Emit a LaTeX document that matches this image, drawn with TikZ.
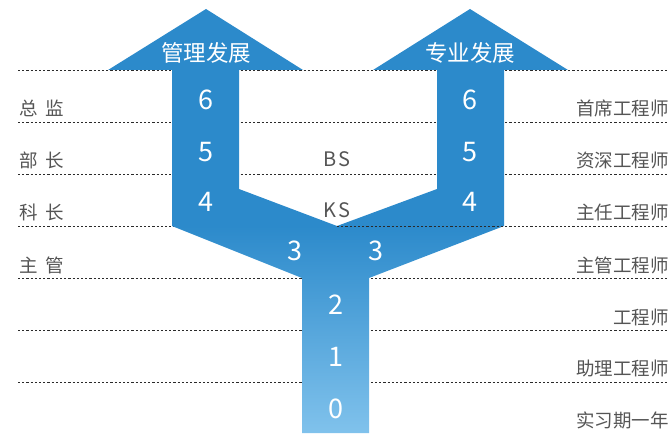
\documentclass[tikz,border=0pt]{standalone}
\usepackage{fontspec}
\setmainfont{Noto Sans CJK SC}
\definecolor{ctop}{HTML}{2C8ACB}
\definecolor{cbot}{HTML}{80C2EC}
\definecolor{lbl}{HTML}{555555}
\definecolor{dotc}{HTML}{2A2A2A}
\pgfdeclareverticalshading{stemshade}{100bp}{color(0bp)=(cbot); color(25bp)=(cbot); color(49.4bp)=(ctop); color(75bp)=(ctop); color(100bp)=(ctop)}
\tikzset{
  dotline/.style={dotc, line width=0.9pt, dash pattern=on 2.2pt off 2pt},
  lefttxt/.style={anchor=west, text=lbl, inner sep=0pt, font=\fontsize{18.5}{18.5}\selectfont},
  righttxt/.style={anchor=east, text=lbl, inner sep=0pt, font=\fontsize{18.5}{18.5}\selectfont},
  headtxt/.style={text=white, inner sep=0pt, font=\fontsize{22.5}{22.5}\selectfont},
  numtxt/.style={text=white, inner sep=0pt, font=\fontsize{27}{27}\selectfont},
  midtxt/.style={text=lbl, inner sep=0pt, font=\fontsize{20}{20}\selectfont}
}
\begin{document}
\begin{tikzpicture}[x=1pt,y=-1pt]
\useasboundingbox (0,0) rectangle (668,433);
\clip (0,0) rectangle (668,433);
% dotted level lines
\foreach \yy in {70,122,174,226,278,330,382}
  \draw[dotline] (18,\yy) -- (680,\yy);
% the Y-shaped double arrow
\shade[shading=stemshade]
  (206,9) -- (303,70) -- (239,70) -- (239,189) -- (337,226) -- (437,189)
  -- (437,70) -- (373,70) -- (470,9) -- (568,70) -- (504,70) -- (504,226)
  -- (369,278) -- (369,433) -- (302,433) -- (302,278) -- (172,226)
  -- (172,70) -- (108,70) -- cycle;
\draw[dotline] (337,226) -- (504,226);
% headers
\node[headtxt] (hl) at (206,53) {管理发展};
\node[headtxt] (hr) at (470,53) {专业发展};
% numbers
\node[numtxt] (l6) at (206,100) {6};
\node[numtxt] (l5) at (206,152) {5};
\node[numtxt] (l4) at (206,202) {4};
\node[numtxt] (r6) at (470,100) {6};
\node[numtxt] (r5) at (470,152) {5};
\node[numtxt] (r4) at (470,202) {4};
\node[numtxt] (l3) at (295,251) {3};
\node[numtxt] (r3) at (376,251) {3};
\node[numtxt] (n2) at (336,305) {2};
\node[numtxt] (n1) at (336,357) {1};
\node[numtxt] (n0) at (336,409) {0};
% middle labels
\node[midtxt] (bs) at (337,159) {B\hspace{2pt}S};
\node[midtxt] (ks) at (337,210) {K\hspace{2pt}S};
% left labels
\node[lefttxt] (a1) at (19,108) {总\hspace{8pt}监};
\node[lefttxt] (a2) at (19,160) {部\hspace{8pt}长};
\node[lefttxt] (a3) at (19,212) {科\hspace{8pt}长};
\node[lefttxt] (a4) at (19,265) {主\hspace{8pt}管};
% right labels
\node[righttxt] (b1) at (669,108) {首席工程师};
\node[righttxt] (b2) at (669,160) {资深工程师};
\node[righttxt] (b3) at (669,212) {主任工程师};
\node[righttxt] (b4) at (669,265) {主管工程师};
\node[righttxt] (b5) at (669,317) {工程师};
\node[righttxt] (b6) at (669,368) {助理工程师};
\node[righttxt] (b7) at (669,420) {实习期一年};
\end{tikzpicture}
\end{document}
